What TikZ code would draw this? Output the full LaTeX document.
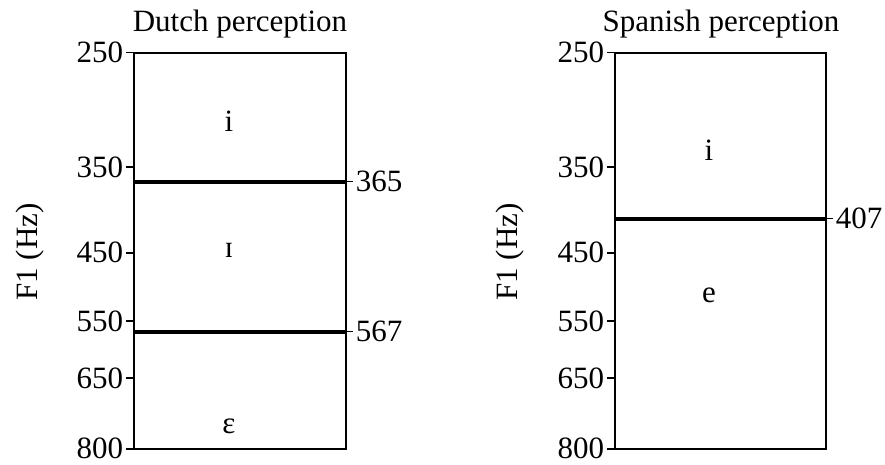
\documentclass[tikz,border=0pt]{standalone}
\usepackage{fontspec}
\setmainfont{Liberation Serif}
% vertical position of a frequency (log scale, 250 Hz at top)
\newcommand{\hzpos}[1]{52.7+340.5*ln(#1/250)}
\begin{document}
\begin{tikzpicture}[
        x=0.5pt, y=-0.5pt,
        every node/.style={font=\fontsize{15.5}{18}\selectfont, inner sep=1pt},
        frame/.style={line width=1pt},
        boundary/.style={line width=2pt},
        tick/.style={line width=0.8pt},
        vowel/.style={anchor=base}
    ]
    \useasboundingbox (0,0) rectangle (885,465);
    % Dutch panel
    \begin{scope}
        \node (dtitle) [anchor=base] at (240,31.5) {Dutch perception};
        \node (dylab)  [rotate=90]   at (30,252)   {F1 (Hz)};
        \draw [frame] (134,52.7) rectangle (346,449);
        \foreach \f in {250,350,450,550,650,800}
            \draw [tick] (134,{\hzpos{\f}}) -- (126,{\hzpos{\f}})
                node[anchor=east] (dtick\f) {\f};
        \draw [boundary] (134,{\hzpos{365}}) -- (346,{\hzpos{365}});
        \draw [boundary] (134,{\hzpos{567}}) -- (346,{\hzpos{567}});
        \draw [tick] (346,{\hzpos{365}}) -- (353,{\hzpos{365}})
            node[anchor=west] (db365) {365};
        \draw [tick] (346,{\hzpos{567}}) -- (353,{\hzpos{567}})
            node[anchor=west] (db567) {567};
        \node (di) [vowel] at (229,132) {i};
        \node (dI) [vowel] at (229,257) {ɪ};
        \node (dE) [vowel] at (229,433) {ɛ};
    \end{scope}
    % Spanish panel
    \begin{scope}[shift={(481,0)}]
        \node (stitle) [anchor=base] at (240,31.5) {Spanish perception};
        \node (sylab)  [rotate=90]   at (29,252)   {F1 (Hz)};
        \draw [frame] (134,52.7) rectangle (345,449);
        \foreach \f in {250,350,450,550,650,800}
            \draw [tick] (134,{\hzpos{\f}}) -- (126,{\hzpos{\f}})
                node[anchor=east] (stick\f) {\f};
        \draw [boundary] (134,{\hzpos{407}}) -- (345,{\hzpos{407}});
        \draw [tick] (345,{\hzpos{407}}) -- (352,{\hzpos{407}})
            node[anchor=west] (sb407) {407};
        \node (si) [vowel] at (228,161) {i};
        \node (se) [vowel] at (228,302) {e};
    \end{scope}
\end{tikzpicture}
\end{document}
